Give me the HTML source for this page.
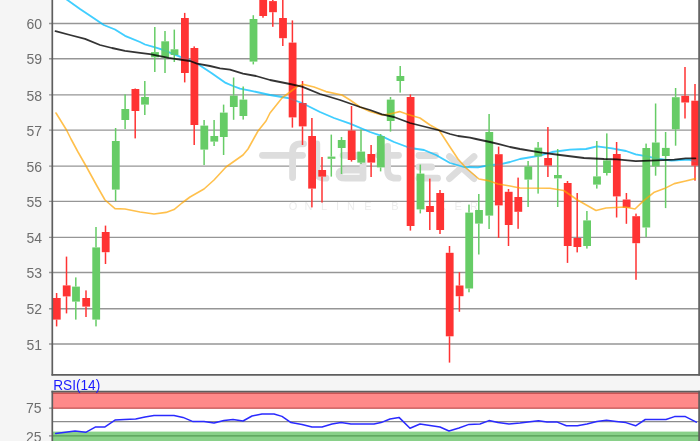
<!DOCTYPE html>
<html><head><meta charset="utf-8"><title>Chart</title>
<style>
html,body{margin:0;padding:0;background:#f5f5f5;}
body{width:700px;height:441px;overflow:hidden;font-family:"Liberation Sans",sans-serif;}
svg{display:block;position:absolute;left:0;top:0;filter:blur(0.35px);}
text{font-family:"Liberation Sans",sans-serif;}
</style></head><body>
<svg width="700" height="441" viewBox="0 0 700 441">
<rect x="0" y="0" width="700" height="441" fill="#f5f5f5"/>
<rect x="52" y="-2" width="648" height="377" fill="#ffffff"/>

<g stroke="#969696" stroke-width="1.4">
<line x1="49" y1="23.5" x2="699" y2="23.5"/>
<line x1="49" y1="58.7" x2="699" y2="58.7"/>
<line x1="49" y1="94.9" x2="699" y2="94.9"/>
<line x1="49" y1="130.1" x2="699" y2="130.1"/>
<line x1="49" y1="166.1" x2="699" y2="166.1"/>
<line x1="49" y1="201.4" x2="699" y2="201.4"/>
<line x1="49" y1="237.4" x2="699" y2="237.4"/>
<line x1="49" y1="272.5" x2="699" y2="272.5"/>
<line x1="49" y1="308.8" x2="699" y2="308.8"/>
<line x1="49" y1="344.0" x2="699" y2="344.0"/>
</g>
<g fill="#6e6e6e" font-size="14px" text-anchor="end">
<text x="42" y="29.1">60</text>
<text x="42" y="64.3">59</text>
<text x="42" y="100.5">58</text>
<text x="42" y="135.7">57</text>
<text x="42" y="171.7">56</text>
<text x="42" y="207.0">55</text>
<text x="42" y="243.0">54</text>
<text x="42" y="278.1">53</text>
<text x="42" y="314.4">52</text>
<text x="42" y="349.6">51</text>
</g>
<g fill="none" stroke="#dddddd" stroke-width="6.8" stroke-linecap="round" stroke-linejoin="round">
<path d="M262.5 155.3 H302.5"/>
<path d="M292.6 177.5 V152 Q292.6 143.8 300.8 143.8 H303.5"/>
<path d="M316.8 144 V170 Q316.8 178.2 325 178.2 H326"/>
<path d="M343 155.3 H355 Q363 155.3 363 163.3 V178.2 H345.5 Q339 178.2 339 174.2 Q339 170.2 345.5 170.2 H362.5"/>
<path d="M387.6 146.5 V170 Q387.6 178.2 396 178.2 H398"/>
<path d="M378.5 155.3 H398.5"/>
<path d="M419 155.5 H435.5"/>
<path d="M419 167 H431.5"/>
<path d="M419 178.2 H437.5"/>
<path d="M449.5 156.5 L474 178.6"/>
<path d="M474 156.5 L449.5 178.6"/>
</g>
<g fill="#ececec" font-size="11px" text-anchor="middle">
<text x="293.0" y="210">O</text>
<text x="308.5" y="210">N</text>
<text x="324.0" y="210">L</text>
<text x="337.5" y="210">I</text>
<text x="351.0" y="210">N</text>
<text x="368.0" y="210">E</text>
<text x="395.0" y="210">B</text>
<text x="410.8" y="210">R</text>
<text x="426.6" y="210">O</text>
<text x="442.4" y="210">K</text>
<text x="458.2" y="210">E</text>
<text x="474.0" y="210">R</text>
</g>
<polyline fill="none" stroke-linejoin="round" stroke-linecap="round" stroke-opacity="0.7" stroke="#00bfff" stroke-width="1.8" points="66.0,-1.0 80.0,9.0 92.0,17.0 103.8,25.0 115.0,29.5 125.0,35.8 140.0,42.0 145.0,44.5 154.3,47.1 160.0,48.8 168.6,52.1 182.9,57.9 190.0,60.0 197.0,63.6 211.4,72.9 225.7,82.9 233.0,86.0 240.0,88.6 250.0,90.6 270.0,95.0 288.0,98.0 302.0,103.0 320.0,112.0 334.0,118.0 350.0,123.6 370.0,132.0 380.0,135.4 394.0,142.0 410.0,148.0 424.0,150.0 436.0,155.0 450.0,163.0 464.0,167.0 478.0,167.4 490.0,165.0 500.0,164.4 510.0,162.0 520.0,159.0 540.0,155.6 552.0,152.0 570.0,149.6 586.0,149.0 597.0,146.4 612.0,148.4 626.0,151.0 635.7,154.3 647.1,156.4 657.1,158.6 671.4,160.7 680.0,160.0 688.6,159.7 695.4,161.4"/>
<g>
<rect x="55.85" y="293.0" width="1.5" height="5.0" fill="#ff3333"/>
<rect x="55.85" y="319.6" width="1.5" height="6.8" fill="#ff3333"/>
<rect x="52.90" y="298.0" width="7.8" height="21.6" fill="#ff3333"/>
<rect x="65.75" y="256.6" width="1.5" height="28.8" fill="#ff3333"/>
<rect x="65.75" y="296.4" width="1.5" height="17.0" fill="#ff3333"/>
<rect x="62.80" y="285.4" width="7.8" height="11.0" fill="#ff3333"/>
<rect x="75.05" y="277.4" width="1.5" height="9.2" fill="#66cc66"/>
<rect x="75.05" y="301.6" width="1.5" height="18.0" fill="#66cc66"/>
<rect x="72.10" y="286.6" width="7.8" height="15.0" fill="#66cc66"/>
<rect x="85.25" y="290.4" width="1.5" height="7.6" fill="#ff3333"/>
<rect x="85.25" y="306.6" width="1.5" height="10.4" fill="#ff3333"/>
<rect x="82.30" y="298.0" width="7.8" height="8.6" fill="#ff3333"/>
<rect x="95.25" y="227.0" width="1.5" height="20.4" fill="#66cc66"/>
<rect x="95.25" y="319.6" width="1.5" height="6.8" fill="#66cc66"/>
<rect x="92.30" y="247.4" width="7.8" height="72.2" fill="#66cc66"/>
<rect x="104.75" y="225.6" width="1.5" height="6.4" fill="#ff3333"/>
<rect x="104.75" y="252.2" width="1.5" height="11.8" fill="#ff3333"/>
<rect x="101.80" y="232.0" width="7.8" height="20.2" fill="#ff3333"/>
<rect x="114.85" y="128.0" width="1.5" height="13.0" fill="#66cc66"/>
<rect x="114.85" y="189.6" width="1.5" height="11.4" fill="#66cc66"/>
<rect x="111.90" y="141.0" width="7.8" height="48.6" fill="#66cc66"/>
<rect x="124.35" y="94.4" width="1.5" height="14.6" fill="#66cc66"/>
<rect x="124.35" y="120.0" width="1.5" height="9.0" fill="#66cc66"/>
<rect x="121.40" y="109.0" width="7.8" height="11.0" fill="#66cc66"/>
<rect x="134.45" y="88.5" width="1.5" height="0.5" fill="#ff3333"/>
<rect x="134.45" y="111.0" width="1.5" height="27.4" fill="#ff3333"/>
<rect x="131.50" y="89.0" width="7.8" height="22.0" fill="#ff3333"/>
<rect x="144.05" y="81.0" width="1.5" height="16.0" fill="#66cc66"/>
<rect x="144.05" y="104.6" width="1.5" height="10.4" fill="#66cc66"/>
<rect x="141.10" y="97.0" width="7.8" height="7.6" fill="#66cc66"/>
<rect x="154.05" y="27.0" width="1.5" height="25.1" fill="#66cc66"/>
<rect x="154.05" y="57.3" width="1.5" height="14.7" fill="#66cc66"/>
<rect x="151.10" y="52.1" width="7.8" height="5.2" fill="#66cc66"/>
<rect x="164.25" y="31.0" width="1.5" height="10.3" fill="#66cc66"/>
<rect x="164.25" y="57.5" width="1.5" height="15.5" fill="#66cc66"/>
<rect x="161.30" y="41.3" width="7.8" height="16.2" fill="#66cc66"/>
<rect x="173.55" y="29.6" width="1.5" height="19.7" fill="#66cc66"/>
<rect x="173.55" y="55.0" width="1.5" height="7.0" fill="#66cc66"/>
<rect x="170.60" y="49.3" width="7.8" height="5.7" fill="#66cc66"/>
<rect x="183.95" y="12.9" width="1.5" height="5.1" fill="#ff3333"/>
<rect x="183.95" y="73.0" width="1.5" height="9.4" fill="#ff3333"/>
<rect x="181.00" y="18.0" width="7.8" height="55.0" fill="#ff3333"/>
<rect x="193.45" y="46.4" width="1.5" height="1.6" fill="#ff3333"/>
<rect x="193.45" y="125.0" width="1.5" height="20.0" fill="#ff3333"/>
<rect x="190.50" y="48.0" width="7.8" height="77.0" fill="#ff3333"/>
<rect x="203.35" y="120.0" width="1.5" height="5.6" fill="#66cc66"/>
<rect x="203.35" y="149.6" width="1.5" height="15.4" fill="#66cc66"/>
<rect x="200.40" y="125.6" width="7.8" height="24.0" fill="#66cc66"/>
<rect x="213.35" y="120.0" width="1.5" height="16.0" fill="#66cc66"/>
<rect x="213.35" y="141.6" width="1.5" height="4.4" fill="#66cc66"/>
<rect x="210.40" y="136.0" width="7.8" height="5.6" fill="#66cc66"/>
<rect x="222.85" y="104.6" width="1.5" height="8.0" fill="#66cc66"/>
<rect x="222.85" y="137.0" width="1.5" height="18.0" fill="#66cc66"/>
<rect x="219.90" y="112.6" width="7.8" height="24.4" fill="#66cc66"/>
<rect x="232.85" y="77.5" width="1.5" height="18.1" fill="#66cc66"/>
<rect x="232.85" y="107.0" width="1.5" height="12.8" fill="#66cc66"/>
<rect x="229.90" y="95.6" width="7.8" height="11.4" fill="#66cc66"/>
<rect x="242.45" y="86.5" width="1.5" height="13.1" fill="#66cc66"/>
<rect x="242.45" y="116.0" width="1.5" height="3.6" fill="#66cc66"/>
<rect x="239.50" y="99.6" width="7.8" height="16.4" fill="#66cc66"/>
<rect x="252.55" y="15.2" width="1.5" height="3.8" fill="#66cc66"/>
<rect x="252.55" y="61.6" width="1.5" height="2.8" fill="#66cc66"/>
<rect x="249.60" y="19.0" width="7.8" height="42.6" fill="#66cc66"/>
<rect x="262.25" y="16.0" width="1.5" height="1.7" fill="#ff3333"/>
<rect x="259.30" y="-5.0" width="7.8" height="21.0" fill="#ff3333"/>
<rect x="272.05" y="-5.0" width="1.5" height="6.1" fill="#ff3333"/>
<rect x="272.05" y="12.2" width="1.5" height="14.6" fill="#ff3333"/>
<rect x="269.10" y="1.1" width="7.8" height="11.1" fill="#ff3333"/>
<rect x="282.05" y="-5.0" width="1.5" height="23.0" fill="#ff3333"/>
<rect x="282.05" y="38.2" width="1.5" height="7.8" fill="#ff3333"/>
<rect x="279.10" y="18.0" width="7.8" height="20.2" fill="#ff3333"/>
<rect x="291.65" y="20.4" width="1.5" height="22.2" fill="#ff3333"/>
<rect x="291.65" y="117.4" width="1.5" height="10.2" fill="#ff3333"/>
<rect x="288.70" y="42.6" width="7.8" height="74.8" fill="#ff3333"/>
<rect x="301.75" y="81.0" width="1.5" height="22.0" fill="#ff3333"/>
<rect x="301.75" y="126.4" width="1.5" height="18.6" fill="#ff3333"/>
<rect x="298.80" y="103.0" width="7.8" height="23.4" fill="#ff3333"/>
<rect x="311.15" y="118.0" width="1.5" height="18.0" fill="#ff3333"/>
<rect x="311.15" y="188.6" width="1.5" height="18.8" fill="#ff3333"/>
<rect x="308.20" y="136.0" width="7.8" height="52.6" fill="#ff3333"/>
<rect x="321.25" y="157.0" width="1.5" height="13.0" fill="#ff3333"/>
<rect x="321.25" y="176.6" width="1.5" height="26.0" fill="#ff3333"/>
<rect x="318.30" y="170.0" width="7.8" height="6.6" fill="#ff3333"/>
<rect x="330.55" y="134.6" width="1.5" height="22.0" fill="#66cc66"/>
<rect x="330.55" y="158.8" width="1.5" height="17.8" fill="#66cc66"/>
<rect x="327.60" y="156.6" width="7.8" height="2.2" fill="#66cc66"/>
<rect x="340.75" y="137.0" width="1.5" height="3.0" fill="#66cc66"/>
<rect x="340.75" y="148.0" width="1.5" height="26.0" fill="#66cc66"/>
<rect x="337.80" y="140.0" width="7.8" height="8.0" fill="#66cc66"/>
<rect x="350.75" y="106.0" width="1.5" height="24.5" fill="#ff3333"/>
<rect x="350.75" y="160.0" width="1.5" height="1.6" fill="#ff3333"/>
<rect x="347.80" y="130.5" width="7.8" height="29.5" fill="#ff3333"/>
<rect x="360.25" y="129.5" width="1.5" height="22.1" fill="#66cc66"/>
<rect x="360.25" y="162.6" width="1.5" height="1.4" fill="#66cc66"/>
<rect x="357.30" y="151.6" width="7.8" height="11.0" fill="#66cc66"/>
<rect x="370.35" y="145.0" width="1.5" height="9.0" fill="#ff3333"/>
<rect x="370.35" y="162.6" width="1.5" height="14.4" fill="#ff3333"/>
<rect x="367.40" y="154.0" width="7.8" height="8.6" fill="#ff3333"/>
<rect x="379.85" y="134.0" width="1.5" height="2.0" fill="#66cc66"/>
<rect x="379.85" y="167.4" width="1.5" height="4.0" fill="#66cc66"/>
<rect x="376.90" y="136.0" width="7.8" height="31.4" fill="#66cc66"/>
<rect x="389.75" y="97.0" width="1.5" height="2.6" fill="#66cc66"/>
<rect x="389.75" y="121.0" width="1.5" height="10.6" fill="#66cc66"/>
<rect x="386.80" y="99.6" width="7.8" height="21.4" fill="#66cc66"/>
<rect x="399.45" y="66.0" width="1.5" height="10.0" fill="#66cc66"/>
<rect x="399.45" y="81.0" width="1.5" height="11.6" fill="#66cc66"/>
<rect x="396.50" y="76.0" width="7.8" height="5.0" fill="#66cc66"/>
<rect x="409.65" y="94.4" width="1.5" height="2.6" fill="#ff3333"/>
<rect x="409.65" y="226.0" width="1.5" height="4.6" fill="#ff3333"/>
<rect x="406.70" y="97.0" width="7.8" height="129.0" fill="#ff3333"/>
<rect x="419.55" y="164.6" width="1.5" height="9.0" fill="#66cc66"/>
<rect x="419.55" y="209.4" width="1.5" height="4.0" fill="#66cc66"/>
<rect x="416.60" y="173.6" width="7.8" height="35.8" fill="#66cc66"/>
<rect x="429.05" y="178.6" width="1.5" height="27.4" fill="#ff3333"/>
<rect x="429.05" y="212.0" width="1.5" height="18.0" fill="#ff3333"/>
<rect x="426.10" y="206.0" width="7.8" height="6.0" fill="#ff3333"/>
<rect x="439.25" y="190.0" width="1.5" height="3.0" fill="#ff3333"/>
<rect x="439.25" y="230.0" width="1.5" height="4.0" fill="#ff3333"/>
<rect x="436.30" y="193.0" width="7.8" height="37.0" fill="#ff3333"/>
<rect x="448.75" y="246.0" width="1.5" height="6.8" fill="#ff3333"/>
<rect x="448.75" y="336.3" width="1.5" height="26.3" fill="#ff3333"/>
<rect x="445.80" y="252.8" width="7.8" height="83.5" fill="#ff3333"/>
<rect x="458.65" y="272.2" width="1.5" height="13.3" fill="#ff3333"/>
<rect x="458.65" y="296.2" width="1.5" height="15.6" fill="#ff3333"/>
<rect x="455.70" y="285.5" width="7.8" height="10.7" fill="#ff3333"/>
<rect x="468.25" y="204.6" width="1.5" height="8.0" fill="#66cc66"/>
<rect x="468.25" y="288.5" width="1.5" height="3.8" fill="#66cc66"/>
<rect x="465.30" y="212.6" width="7.8" height="75.9" fill="#66cc66"/>
<rect x="478.05" y="194.0" width="1.5" height="16.0" fill="#66cc66"/>
<rect x="478.05" y="223.6" width="1.5" height="30.9" fill="#66cc66"/>
<rect x="475.10" y="210.0" width="7.8" height="13.6" fill="#66cc66"/>
<rect x="488.35" y="114.0" width="1.5" height="18.0" fill="#66cc66"/>
<rect x="488.35" y="215.6" width="1.5" height="13.4" fill="#66cc66"/>
<rect x="485.40" y="132.0" width="7.8" height="83.6" fill="#66cc66"/>
<rect x="497.85" y="146.6" width="1.5" height="7.6" fill="#ff3333"/>
<rect x="497.85" y="205.4" width="1.5" height="32.6" fill="#ff3333"/>
<rect x="494.90" y="154.2" width="7.8" height="51.2" fill="#ff3333"/>
<rect x="507.75" y="189.0" width="1.5" height="2.8" fill="#ff3333"/>
<rect x="507.75" y="225.0" width="1.5" height="21.0" fill="#ff3333"/>
<rect x="504.80" y="191.8" width="7.8" height="33.2" fill="#ff3333"/>
<rect x="517.35" y="177.6" width="1.5" height="19.4" fill="#ff3333"/>
<rect x="517.35" y="211.8" width="1.5" height="17.0" fill="#ff3333"/>
<rect x="514.40" y="197.0" width="7.8" height="14.8" fill="#ff3333"/>
<rect x="527.35" y="161.0" width="1.5" height="5.4" fill="#66cc66"/>
<rect x="527.35" y="179.6" width="1.5" height="27.4" fill="#66cc66"/>
<rect x="524.40" y="166.4" width="7.8" height="13.2" fill="#66cc66"/>
<rect x="537.35" y="142.0" width="1.5" height="5.6" fill="#66cc66"/>
<rect x="537.35" y="156.4" width="1.5" height="37.2" fill="#66cc66"/>
<rect x="534.40" y="147.6" width="7.8" height="8.8" fill="#66cc66"/>
<rect x="547.15" y="127.0" width="1.5" height="31.0" fill="#ff3333"/>
<rect x="547.15" y="165.6" width="1.5" height="11.4" fill="#ff3333"/>
<rect x="544.20" y="158.0" width="7.8" height="7.6" fill="#ff3333"/>
<rect x="556.95" y="149.0" width="1.5" height="26.0" fill="#66cc66"/>
<rect x="556.95" y="178.4" width="1.5" height="28.6" fill="#66cc66"/>
<rect x="554.00" y="175.0" width="7.8" height="3.4" fill="#66cc66"/>
<rect x="566.75" y="181.0" width="1.5" height="2.0" fill="#ff3333"/>
<rect x="566.75" y="246.0" width="1.5" height="16.9" fill="#ff3333"/>
<rect x="563.80" y="183.0" width="7.8" height="63.0" fill="#ff3333"/>
<rect x="576.45" y="193.0" width="1.5" height="45.0" fill="#ff3333"/>
<rect x="576.45" y="247.0" width="1.5" height="5.4" fill="#ff3333"/>
<rect x="573.50" y="238.0" width="7.8" height="9.0" fill="#ff3333"/>
<rect x="586.15" y="211.0" width="1.5" height="9.4" fill="#66cc66"/>
<rect x="586.15" y="246.0" width="1.5" height="2.6" fill="#66cc66"/>
<rect x="583.20" y="220.4" width="7.8" height="25.6" fill="#66cc66"/>
<rect x="596.05" y="141.0" width="1.5" height="35.4" fill="#66cc66"/>
<rect x="596.05" y="184.6" width="1.5" height="4.0" fill="#66cc66"/>
<rect x="593.10" y="176.4" width="7.8" height="8.2" fill="#66cc66"/>
<rect x="606.05" y="133.4" width="1.5" height="27.0" fill="#66cc66"/>
<rect x="606.05" y="173.0" width="1.5" height="2.5" fill="#66cc66"/>
<rect x="603.10" y="160.4" width="7.8" height="12.6" fill="#66cc66"/>
<rect x="615.85" y="142.0" width="1.5" height="12.0" fill="#ff3333"/>
<rect x="615.85" y="196.4" width="1.5" height="21.1" fill="#ff3333"/>
<rect x="612.90" y="154.0" width="7.8" height="42.4" fill="#ff3333"/>
<rect x="625.65" y="193.0" width="1.5" height="6.5" fill="#ff3333"/>
<rect x="625.65" y="207.6" width="1.5" height="16.2" fill="#ff3333"/>
<rect x="622.70" y="199.5" width="7.8" height="8.1" fill="#ff3333"/>
<rect x="635.25" y="213.6" width="1.5" height="2.6" fill="#ff3333"/>
<rect x="635.25" y="243.2" width="1.5" height="36.6" fill="#ff3333"/>
<rect x="632.30" y="216.2" width="7.8" height="27.0" fill="#ff3333"/>
<rect x="645.35" y="143.6" width="1.5" height="4.4" fill="#66cc66"/>
<rect x="645.35" y="227.5" width="1.5" height="9.5" fill="#66cc66"/>
<rect x="642.40" y="148.0" width="7.8" height="79.5" fill="#66cc66"/>
<rect x="654.85" y="103.5" width="1.5" height="39.0" fill="#66cc66"/>
<rect x="654.85" y="166.4" width="1.5" height="9.3" fill="#66cc66"/>
<rect x="651.90" y="142.5" width="7.8" height="23.9" fill="#66cc66"/>
<rect x="664.85" y="132.0" width="1.5" height="15.9" fill="#66cc66"/>
<rect x="664.85" y="156.0" width="1.5" height="52.1" fill="#66cc66"/>
<rect x="661.90" y="147.9" width="7.8" height="8.1" fill="#66cc66"/>
<rect x="674.85" y="88.0" width="1.5" height="9.2" fill="#66cc66"/>
<rect x="674.85" y="129.3" width="1.5" height="16.4" fill="#66cc66"/>
<rect x="671.90" y="97.2" width="7.8" height="32.1" fill="#66cc66"/>
<rect x="684.25" y="67.0" width="1.5" height="28.8" fill="#ff3333"/>
<rect x="684.25" y="102.5" width="1.5" height="16.0" fill="#ff3333"/>
<rect x="681.30" y="95.8" width="7.8" height="6.7" fill="#ff3333"/>
<rect x="694.25" y="84.0" width="1.5" height="16.7" fill="#ff3333"/>
<rect x="694.25" y="165.7" width="1.5" height="15.0" fill="#ff3333"/>
<rect x="691.30" y="100.7" width="7.8" height="65.0" fill="#ff3333"/>
</g>
<g fill="none" stroke-linejoin="round" stroke-linecap="round" stroke-opacity="0.8">
<polyline stroke="#00bfff" stroke-opacity="0.15" stroke-width="1.8" points="66.0,-1.0 80.0,9.0 92.0,17.0 103.8,25.0 115.0,29.5 125.0,35.8 140.0,42.0 145.0,44.5 154.3,47.1 160.0,48.8 168.6,52.1 182.9,57.9 190.0,60.0 197.0,63.6 211.4,72.9 225.7,82.9 233.0,86.0 240.0,88.6 250.0,90.6 270.0,95.0 288.0,98.0 302.0,103.0 320.0,112.0 334.0,118.0 350.0,123.6 370.0,132.0 380.0,135.4 394.0,142.0 410.0,148.0 424.0,150.0 436.0,155.0 450.0,163.0 464.0,167.0 478.0,167.4 490.0,165.0 500.0,164.4 510.0,162.0 520.0,159.0 540.0,155.6 552.0,152.0 570.0,149.6 586.0,149.0 597.0,146.4 612.0,148.4 626.0,151.0 635.7,154.3 647.1,156.4 657.1,158.6 671.4,160.7 680.0,160.0 688.6,159.7 695.4,161.4"/>
<polyline stroke="#ffa500" stroke-opacity="0.7" stroke-width="1.6" points="56.0,113.0 66.5,130.0 71.0,139.0 78.0,152.0 86.0,166.0 97.0,186.0 105.0,200.0 115.0,208.6 125.0,209.0 140.0,212.0 154.0,214.0 166.0,212.4 174.0,209.6 182.0,203.0 190.0,197.0 204.0,189.0 214.0,180.0 226.0,167.0 243.0,155.0 248.0,149.0 258.0,131.0 266.0,121.0 270.0,113.0 282.0,98.0 298.0,86.0 303.0,84.4 314.0,87.0 326.0,91.6 342.0,95.0 350.0,100.0 360.0,107.0 370.0,111.6 382.0,115.0 390.0,114.0 399.6,111.6 408.0,114.4 420.0,118.0 430.0,125.0 439.0,130.0 450.0,147.0 458.0,159.0 466.0,168.0 479.0,179.0 488.0,180.6 498.0,184.0 510.0,186.0 520.0,188.0 550.0,188.3 563.7,190.5 577.5,200.0 596.0,210.5 606.0,208.0 625.0,207.0 635.0,209.0 642.9,201.4 654.3,192.2 664.3,188.6 674.3,183.6 685.7,181.0 695.4,178.6"/>
<polyline stroke="#000000" stroke-width="1.8" points="55.5,31.2 70.0,35.0 85.0,38.8 100.0,45.0 112.0,48.0 125.0,50.8 140.0,52.9 150.0,54.2 168.6,57.9 175.0,58.8 190.0,61.0 197.0,63.6 210.0,66.0 220.0,68.4 230.0,69.6 243.0,73.6 256.0,76.0 270.0,80.0 290.0,84.0 302.0,86.6 320.0,94.0 340.0,100.0 360.0,107.0 370.0,110.0 382.0,114.4 394.0,117.0 410.0,123.0 430.0,128.0 438.0,130.0 450.0,134.0 458.0,136.0 470.0,137.6 476.0,139.0 490.0,142.0 500.0,144.4 510.0,147.0 520.0,149.0 540.0,152.4 560.0,155.0 584.0,158.0 604.0,159.0 617.0,159.3 635.7,161.1 657.0,160.4 674.3,159.7 685.7,158.3 695.4,158.3"/>
</g>
<g stroke="#5e5e5e" stroke-width="1.7" fill="none">
<line x1="52.3" y1="-2" x2="52.3" y2="375.6"/>
<line x1="51.5" y1="374.8" x2="700" y2="374.8"/>
<line x1="699.1" y1="-2" x2="699.1" y2="375.6"/>
</g>
<rect x="52" y="392" width="648" height="50" fill="#ffffff"/>
<g stroke="#8c8c8c" stroke-width="1.2">
<line x1="49" y1="408.1" x2="699" y2="408.1"/>
<line x1="52" y1="421.7" x2="699" y2="421.7"/>
<line x1="49" y1="435.9" x2="699" y2="435.9"/>
<line x1="52" y1="393.4" x2="699" y2="393.4"/>
</g>
<rect x="52" y="392" width="648" height="16.8" fill="rgba(255,40,40,0.55)"/>
<rect x="52" y="431.6" width="648" height="12" fill="rgba(40,170,40,0.55)"/>

<polyline fill="none" stroke="#2a2aff" stroke-width="1.5" stroke-linejoin="round" stroke-linecap="round" points="55.7,433.4 75.0,430.9 85.7,432.3 95.7,426.9 105.0,426.9 115.0,420.1 124.3,419.4 135.7,419.1 145.0,417.0 154.0,415.4 174.0,415.4 183.0,417.4 193.0,421.6 204.0,421.6 214.0,423.0 224.0,420.6 233.0,419.4 243.0,421.0 252.0,416.0 262.0,414.0 274.0,414.0 282.0,416.4 291.0,422.6 302.0,424.4 312.0,427.0 322.0,427.0 332.0,424.0 341.0,422.6 351.0,424.0 374.0,424.0 381.0,422.6 390.0,419.0 399.0,417.4 410.0,428.3 420.0,424.0 430.0,425.6 440.0,427.0 449.0,431.0 459.0,428.0 469.0,424.4 480.0,424.0 489.0,420.6 498.0,422.6 509.0,424.0 520.0,423.0 530.0,421.7 538.5,420.7 547.0,421.9 556.7,421.9 566.4,425.8 577.4,425.8 587.0,423.9 596.8,421.4 606.5,420.2 616.2,421.4 625.9,422.6 635.6,425.8 645.3,419.5 666.0,419.5 674.5,416.6 685.4,416.6 696.3,422.2"/>
<g stroke="#5e5e5e" stroke-width="1.7" fill="none">
<line x1="52.3" y1="390.8" x2="52.3" y2="442"/>
<line x1="51.5" y1="391.6" x2="700" y2="391.6"/>
<line x1="699.1" y1="390.8" x2="699.1" y2="442"/>
</g>
<g fill="#6e6e6e" font-size="14px" text-anchor="end">
<text x="41.5" y="413.1">75</text>
<text x="41.5" y="442.2">25</text>
</g>
<text x="53.2" y="390.2" font-size="14px" textLength="47" lengthAdjust="spacingAndGlyphs" fill="#1a1aff">RSI(14)</text>

</svg></body></html>
